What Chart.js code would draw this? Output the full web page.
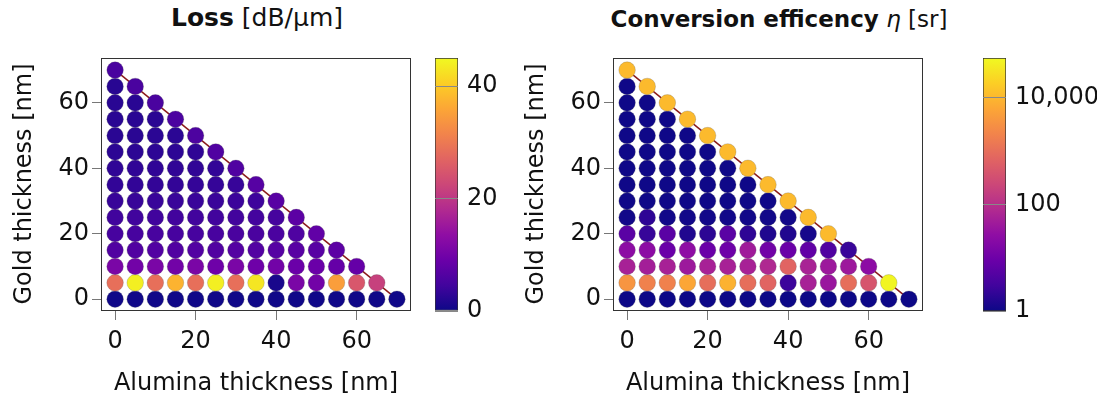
<!DOCTYPE html>
<html>
<head>
<meta charset="utf-8">
<script src="https://cdn.jsdelivr.net/npm/chart.js@4.4.1/dist/chart.umd.min.js"></script>
<style>
  html, body { margin:0; padding:0; background:#fff; }
  body { width:1097px; height:403px; position:relative; overflow:hidden; font-family:"DejaVu Sans", sans-serif; }
  canvas { position:absolute; top:0; }
  .title { position:absolute; top:2px; font-size:25px; line-height:32px; color:#111; white-space:nowrap; transform:translateX(-50%); }
</style>
</head>
<body>
<div class="title" style="left:257px"><b>Loss</b> [dB/μm]</div>
<div class="title" style="left:779px; font-size:23px; top:3px"><b>Conversion efficency</b> <i>η</i> [sr]</div>
<canvas id="loss" width="420" height="403" style="left:0px"></canvas>
<canvas id="lossBar" width="100" height="403" style="left:420px"></canvas>
<canvas id="conv" width="420" height="403" style="left:512px"></canvas>
<canvas id="convBar" width="129" height="403" style="left:968px"></canvas>
<script>
// ---------- data ----------
// thickness grid in nm (alumina along x, gold along y); a + g <= 70
const thickness = [0,5,10,15,20,25,30,35,40,45,50,55,60,65,70];
const xTicks = [0,20,40,60];
const yTicks = [0,20,40,60];
const lossTicks = [0,20,40];
const convTicks = [1,100,10000];
const lossRange = [0,45];
const convRange = [1,56000];
const limitAlumina = [0,70];
const limitGold = [70,0];

// Loss [dB/µm]; lossRows[i] = gold thickness thickness[i], values over alumina 0,5,...
const lossRows = [
  [0.3,0.3,0.3,0.3,0.3,0.3,0.3,0.3,0.3,0.3,0.3,0.3,0.3,0.3,0.3],
  [28.5,44,28.5,37.5,28.5,44,28.5,43,1,11,10,35,25,21.5],
  [11,10,11,10,11,9.5,11,9.5,10,9,9,8.5,8.5],
  [6.3,6.3,6.4,6.3,6.4,6.3,6.6,6.5,6.8,7,7,7.5],
  [5.2,5.2,5.3,5.2,5.2,5.3,5.5,5.5,5.6,6,8],
  [4.5,4.5,4.5,4.6,4.6,4.6,4.7,4.8,5,7.5],
  [3.7,3.7,3.8,3.8,3.8,3.9,4,4.2,7],
  [3.2,3.2,3.3,3.3,3.4,3.5,3.6,6.8],
  [3,3,3,3.1,3.1,3.2,6.2],
  [2.7,2.7,2.8,2.8,2.9,6.2],
  [2.5,2.5,2.6,2.6,5.8],
  [2.4,2.4,2.5,5.6],
  [2.4,2.4,5.5],
  [2.3,5.5],
  [5.4]
];

// Conversion efficiency [sr] (log scale)
const convRows = [
  [1,1,1,1,1,1,1,1,1,1,1,1,1,1,1],
  [3600,1900,1900,6300,1000,8700,1000,700,2.7,57,37,1000,400,50000],
  [57,50,57,41,57,57,57,75,700,60,41,41,24],
  [24,24,9,26,9,10,45,11,9,7,4.5,2.5],
  [5.8,2.4,5.8,1.5,1.9,5.8,2,1.5,1.5,1.2,11000],
  [1.1,2,1.1,1.1,1.1,1.1,1.1,1.1,1.1,11000],
  [1.05,1.05,1.05,1.05,1.05,1.05,1.05,1.05,11000],
  [1.05,1.05,1.05,1.05,1.05,1.05,1.05,11000],
  [1.05,1.05,1.05,1.05,1.05,1.05,11000],
  [1.05,1.05,1.05,1.05,1.05,11000],
  [1.05,1.05,1.05,1.05,11000],
  [1.05,1.05,1.05,11000],
  [1.05,1.05,11000],
  [1.05,11000],
  [11000]
];

// ---------- colour map ----------
const PLASMA = ['#0d0887','#41049d','#6a00a8','#8f0da4','#b12a90','#cc4778','#e16462','#f2844b','#fca636','#fcce25','#f0f921'];
function hex2rgb(h){ return [parseInt(h.substr(1,2),16),parseInt(h.substr(3,2),16),parseInt(h.substr(5,2),16)]; }
function plasma(t){
  t = Math.max(0, Math.min(1, t));
  const s = t*10, i = Math.min(9, Math.floor(s)), f = s - i;
  const a = hex2rgb(PLASMA[i]), b = hex2rgb(PLASMA[i+1]);
  return 'rgb(' + a.map((v,k)=>Math.round(v+(b[k]-v)*f)).join(',') + ')';
}

function buildPoints(rows){
  const pts = [];
  rows.forEach((row, gi) => row.forEach((v, ai) => pts.push({x: thickness[ai], y: thickness[gi], v: v})));
  return pts;
}

const FONT = "'DejaVu Sans', sans-serif";
const boxPlugin = {
  id: 'box',
  afterDatasetsDraw(chart){
    const {ctx, chartArea:a} = chart;
    ctx.save();
    ctx.strokeStyle = '#333';
    ctx.lineWidth = 1;
    ctx.strokeRect(Math.round(a.left)+0.5, Math.round(a.top)+0.5, Math.round(a.right-a.left)-1, Math.round(a.bottom-a.top));
    ctx.restore();
  }
};

function scatterChart(id, rows, norm){
  const pts = buildPoints(rows);
  const colors = pts.map(p => plasma(norm(p.v)));
  const line = limitAlumina.map((x,i)=>({x:x, y:limitGold[i]}));
  return new Chart(document.getElementById(id), {
    type: 'scatter',
    data: { datasets: [
      { type:'line', data: line, borderColor:'#8b1a1a', borderWidth:1.5, pointRadius:0, order:2 },
      { data: pts, backgroundColor: colors, borderColor:'rgba(90,90,90,0.35)', borderWidth:0.7, pointRadius:8.3, pointHoverRadius:8.3, order:1 }
    ]},
    options: {
      responsive:false, animation:false, devicePixelRatio:1,
      layout:{ padding:{ top:58, right:8, left:0, bottom:0 } },
      plugins:{ legend:{display:false}, tooltip:{enabled:false} },
      scales:{
        x:{
          type:'linear', min:-3.5, max:73.5,
          afterBuildTicks: s => { s.ticks = xTicks.map(v=>({value:v})); },
          afterFit: s => { s.height = 93; },
          grid:{ drawOnChartArea:false, tickLength:10, tickColor:'#777' },
          border:{ display:false },
          ticks:{ font:{family:FONT,size:24}, color:'#111', padding:7, maxRotation:0 },
          title:{ display:true, text:'Alumina thickness [nm]', font:{family:FONT,size:24}, color:'#111', padding:{top:0,bottom:5} }
        },
        y:{
          type:'linear', min:-3.3, max:73.7,
          afterBuildTicks: s => { s.ticks = yTicks.map(v=>({value:v})); },
          afterFit: s => { s.width = 101; },
          grid:{ drawOnChartArea:false, tickLength:9, tickColor:'#777' },
          border:{ display:false },
          ticks:{ font:{family:FONT,size:24}, color:'#111', padding:3 },
          title:{ display:true, text:'Gold thickness [nm]', font:{family:FONT,size:24}, color:'#111', padding:{top:10,bottom:0} }
        }
      }
    },
    plugins:[boxPlugin]
  });
}

function colorBar(id, range, ticks, isLog, yWidth){
  return new Chart(document.getElementById(id), {
    type:'bar',
    data:{ labels:[''], datasets:[{
      data:[range],
      backgroundColor: ctx => {
        const a = ctx.chart.chartArea;
        if (!a) return PLASMA[0];
        const g = ctx.chart.ctx.createLinearGradient(0, a.bottom, 0, a.top);
        PLASMA.forEach((c,i)=>g.addColorStop(i/10, c));
        return g;
      },
      borderColor:'#333', borderWidth:1, borderSkipped:false,
      barPercentage:1, categoryPercentage:1
    }]},
    options:{
      responsive:false, animation:false, devicePixelRatio:1,
      layout:{ padding:{ top:58, bottom:92, left:15, right:0 } },
      plugins:{ legend:{display:false}, tooltip:{enabled:false} },
      scales:{
        x:{ display:false },
        y:{
          type: isLog ? 'logarithmic' : 'linear',
          position:'right', min:range[0], max:range[1],
          afterBuildTicks: s => { s.ticks = ticks.map(v=>({value:v})); },
          afterFit: s => { s.width = yWidth; },
          grid:{ drawOnChartArea:true, drawTicks:false, color:'#888', z:1 },
          border:{ display:false },
          ticks:{ font:{family:FONT,size:24}, color:'#111', padding:9,
                  callback: v => Number(v).toLocaleString('en-US') }
        }
      }
    }
  });
}

const lossMax = lossRange[1];
scatterChart('loss', lossRows, v => (v - lossRange[0]) / (lossMax - lossRange[0]));
scatterChart('conv', convRows, v => Math.log10(v/convRange[0]) / Math.log10(convRange[1]/convRange[0]));
colorBar('lossBar', lossRange, lossTicks, false, 62);
colorBar('convBar', convRange, convTicks, true, 91);
</script>
</body>
</html>
